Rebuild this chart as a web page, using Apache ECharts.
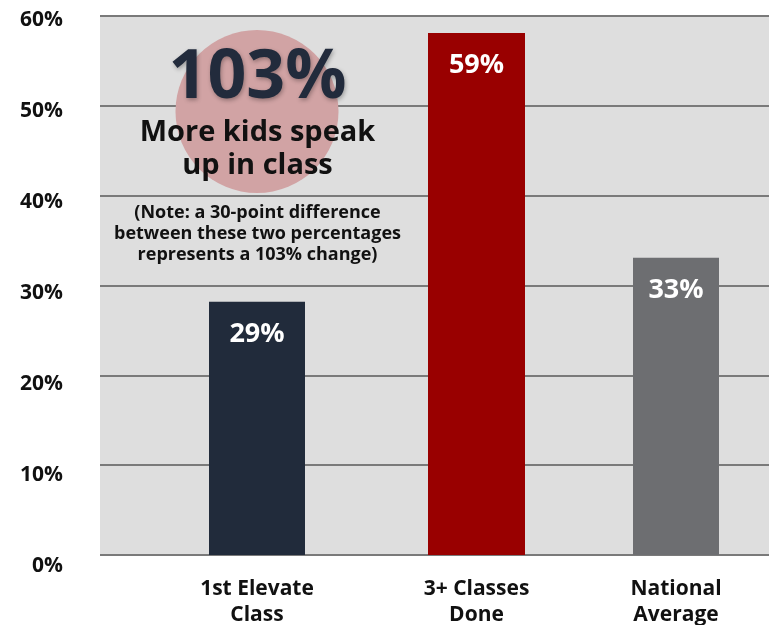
<!DOCTYPE html>
<html><head><meta charset="utf-8">
<script src="https://cdn.jsdelivr.net/npm/echarts@6/dist/echarts.min.js"></script>
<style>html,body{margin:0;padding:0;background:#fff}#c{width:769px;height:625px}</style>
</head><body><div id="c"></div>
<script>
const categories = ['1st Elevate\nClass', '3+ Classes\nDone', 'National\nAverage'];
const values = [28.2, 58.1, 33.1];
const valueLabels = ['29%', '59%', '33%'];
const barColors = ['#212b3b', '#990000', '#6d6e71'];
const yTicks = [0, 10, 20, 30, 40, 50, 60];

const FONT = '"Open Sans", "DejaVu Sans", sans-serif';
const yMin = yTicks[0], yMax = yTicks[yTicks.length - 1], yStep = yTicks[1] - yTicks[0];

// per-bar layout (centers / widths in px)
const barCenters = [257, 476.5, 676];
const barWidths = [96, 97, 86];
const slot = 200;

const grids = [
  {left: 100, right: 0, top: 16, bottom: 70, show: true, backgroundColor: '#dedede', borderWidth: 0,
   containLabel: false, outerBoundsMode: 'none'},
  {left: 100, right: 0, top: 20, bottom: 59, containLabel: false, outerBoundsMode: 'none'}
];
const xAxes = [
  {gridIndex: 0, type: 'category', data: categories, show: false},
  {gridIndex: 1, type: 'category', data: categories, show: false}
];
const yAxes = [
  {gridIndex: 0, type: 'value', min: yMin, max: yMax, interval: yStep,
   axisLine: {show: false}, axisTick: {show: false}, axisLabel: {show: false},
   splitLine: {show: true, lineStyle: {color: '#7a7a7a', width: 2}}},
  {gridIndex: 1, type: 'value', min: yMin, max: yMax, interval: yStep,
   axisLine: {show: false}, axisTick: {show: false}, splitLine: {show: false},
   axisLabel: {show: true, formatter: '{value}%', margin: 37, color: '#111',
     fontFamily: FONT, fontWeight: 'bold', fontSize: 21}}
];
const series = [];
categories.forEach((cat, i) => {
  const gi = grids.length;
  grids.push({left: barCenters[i] - slot / 2, width: slot, top: 16, bottom: 70,
    containLabel: false, outerBoundsMode: 'none'});
  xAxes.push({gridIndex: gi, type: 'category', data: [cat],
    axisLine: {show: false}, axisTick: {show: false},
    axisLabel: {show: true, interval: 0, margin: 21, color: '#111', fontFamily: FONT,
      fontWeight: 'bold', fontSize: 21, lineHeight: 26}});
  yAxes.push({gridIndex: gi, type: 'value', min: yMin, max: yMax, interval: yStep, show: false,
    splitLine: {show: false}});
  series.push({
    type: 'bar', xAxisIndex: gi, yAxisIndex: gi, barWidth: barWidths[i],
    data: [values[i]],
    itemStyle: {color: barColors[i]},
    label: {show: true, position: 'insideTop', distance: 19, formatter: valueLabels[i],
      color: '#fff', fontFamily: FONT, fontWeight: 'bold', fontSize: 27},
    silent: true, animation: false, z: 3
  });
});

const chart = echarts.init(document.getElementById('c'), null, {renderer: 'canvas'});
chart.setOption({
  animation: false,
  grid: grids, xAxis: xAxes, yAxis: yAxes, series: series,
  graphic: [
    {type: 'circle', shape: {cx: 257, cy: 111.5, r: 81.5}, style: {fill: '#d1a3a4'}, z: 1, silent: true},
    {type: 'text', x: 257.5, y: 79, z: 10, silent: true,
     style: {text: '103%', fill: '#222b3c', fontFamily: FONT, fontWeight: 'bold', fontSize: 68,
       align: 'center', verticalAlign: 'middle', textAlign: 'center', textVerticalAlign: 'middle',
       textShadowColor: 'rgba(0,0,0,0.3)', textShadowBlur: 4, textShadowOffsetX: 1, textShadowOffsetY: 2}},
    {type: 'text', x: 257.5, y: 149, z: 10, silent: true,
     style: {text: 'More kids speak\nup in class', fill: '#111', fontFamily: FONT, fontWeight: 'bold',
       fontSize: 29, lineHeight: 33,
       align: 'center', verticalAlign: 'middle', textAlign: 'center', textVerticalAlign: 'middle'}},
    {type: 'text', x: 257.5, y: 234, z: 10, silent: true,
     style: {text: '(Note: a 30-point difference\nbetween these two percentages\nrepresents a 103% change)',
       fill: '#111', fontFamily: FONT, fontWeight: 'bold', fontSize: 18, lineHeight: 21,
       align: 'center', verticalAlign: 'middle', textAlign: 'center', textVerticalAlign: 'middle'}}
  ]
});
</script></body></html>
